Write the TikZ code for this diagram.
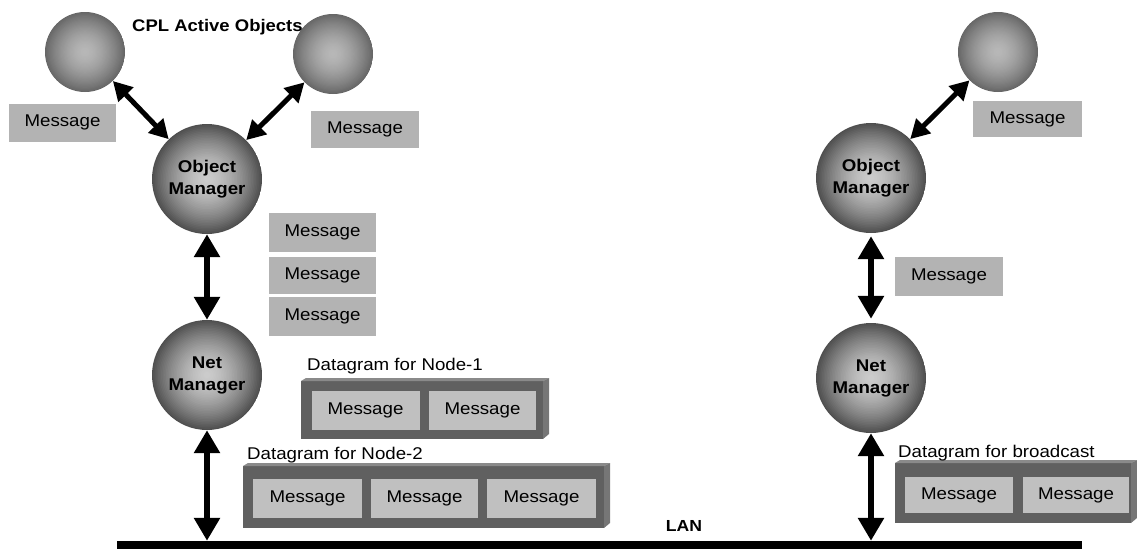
\documentclass[tikz,border=0pt]{standalone}
\usepackage{fontspec}
\setmainfont[FakeStretch=1.1]{Liberation Sans}
\usetikzlibrary{arrows.meta}
\definecolor{bgA}{HTML}{CCCCCC}
\definecolor{bgC}{HTML}{4E4E4E}
\definecolor{smA}{HTML}{B8B8B8}
\definecolor{smC}{HTML}{666666}
\definecolor{msgfill}{HTML}{B3B3B3}
\definecolor{inmsg}{HTML}{C0C0C0}
\definecolor{dgfront}{HTML}{606060}
\definecolor{dgtop}{HTML}{8A8A8A}
\definecolor{dgside}{HTML}{767676}
\newcommand{\dgbox}[4]{%
  \fill[dgfront] (#1,#2+3) rectangle (#3-6,#4);
  \fill[dgtop] (#1,#2+3) -- (#1+5,#2) -- (#3,#2) -- (#3-6,#2+3) -- cycle;
  \fill[dgside] (#3-6,#2+3) -- (#3,#2) -- (#3,#4-5) -- (#3-6,#4) -- cycle;
}
\tikzset{
  sphshade/.style n args={3}{path picture={
    \foreach \i in {0,...,34}{
      \pgfmathsetmacro\ff{1-\i/35}
      \pgfmathsetmacro\pp{100*(1-\ff^1.6)}
      \fill[#2!\pp!#3] (path picture bounding box.center) circle[radius=\ff*#1];
    }}},
  bigball/.style={circle, minimum size=110pt, inner sep=0pt, sphshade={55.5}{bgA}{bgC}, align=center,
    font=\bfseries\fontsize{17}{22}\selectfont},
  smallball/.style={circle, minimum size=80pt, inner sep=0pt, sphshade={40.5}{smA}{smC}},
  msg/.style={fill=msgfill, minimum width=107pt, minimum height=38pt, inner sep=0pt,
    font=\fontsize{17}{20}\selectfont},
  imsg/.style={fill=inmsg, minimum width=108pt, minimum height=39pt, inner sep=0pt,
    font=\fontsize{17}{20}\selectfont},
  dglabel/.style={anchor=base west, inner sep=0pt, font=\fontsize{17}{20}\selectfont},
  biarrow/.style={line width=6pt, {Triangle[width=25pt,length=23pt]}-{Triangle[width=25pt,length=23pt]}},
  diagarrow/.style={line width=5pt, {Triangle[width=20pt,length=19pt]}-{Triangle[width=20pt,length=19pt]}}
}
\begin{document}
\begin{tikzpicture}[x=1pt,y=-1pt]
\useasboundingbox (0,0) rectangle (1137,549);
% spheres
\node[smallball] (s1) at (85,52) {};
\node[smallball] (s2) at (333,54) {};
\node[smallball] (s3) at (998,52) {};
\node[bigball] (om1) at (207,179) {Object\\Manager};
\node[bigball] (nm1) at (207,375) {Net\\Manager};
\node[bigball] (om2) at (871,178) {Object\\Manager};
\node[bigball] (nm2) at (871,378) {Net\\Manager};
\node[anchor=base west, inner sep=0pt, font=\bfseries\fontsize{16.8}{20}\selectfont] (cpl) at (132,31) {CPL Active Objects};
% LAN
\node[fill=black, minimum width=965pt, minimum height=8pt, inner sep=0pt] (lan) at (599.5,545) {};
\node[font=\bfseries\fontsize{16}{20}\selectfont, inner sep=0pt] (lanlbl) at (684,526) {LAN};
% loose messages
\node[msg] (m1) at (62.5,122.5) {Message};
\node[msg, minimum width=108pt, minimum height=37pt] (m2) at (365,129.5) {Message};
\node[msg, minimum height=39pt] (m3) at (322.5,232.5) {Message};
\node[msg, minimum height=37pt] (m4) at (322.5,275.5) {Message};
\node[msg, minimum height=39pt] (m5) at (322.5,316.5) {Message};
\node[msg, minimum width=109pt, minimum height=36pt] (m6) at (1027.5,119) {Message};
\node[msg, minimum width=108pt, minimum height=39pt] (m7) at (949,276.5) {Message};
% datagrams
\dgbox{301}{378}{549}{439}
\node[imsg] (d1a) at (365.5,410.5) {Message};
\node[imsg, minimum width=107pt] (d1b) at (482.5,410.5) {Message};
\node[dglabel] (d1l) at (307,370) {Datagram for Node-1};
\dgbox{243}{463}{610}{528}
\node[imsg, minimum width=109pt] (d2a) at (307.5,498.5) {Message};
\node[imsg, minimum width=107pt] (d2b) at (424.5,498.5) {Message};
\node[imsg, minimum width=109pt] (d2c) at (541.5,498.5) {Message};
\node[dglabel] (d2l) at (247,459) {Datagram for Node-2};
\dgbox{895}{460}{1137}{523}
\node[imsg, minimum height=36pt] (d3a) at (959,495) {Message};
\node[imsg, minimum width=106pt, minimum height=36pt] (d3b) at (1076,495) {Message};
\node[dglabel] (d3l) at (898,457) {Datagram for broadcast};
% arrows
\draw[diagarrow] (s1) -- (om1);
\draw[diagarrow] (s2) -- (om1);
\draw[diagarrow] (s3) -- (om2);
\draw[biarrow] (om1.south) -- (nm1.north);
\draw[biarrow] (nm1.south) -- (nm1.south |- lan.north);
\draw[biarrow, shorten <=3pt, shorten >=4pt] (om2.south) -- (nm2.north);
\draw[biarrow] (nm2.south) -- (nm2.south |- lan.north);
\end{tikzpicture}
\end{document}
